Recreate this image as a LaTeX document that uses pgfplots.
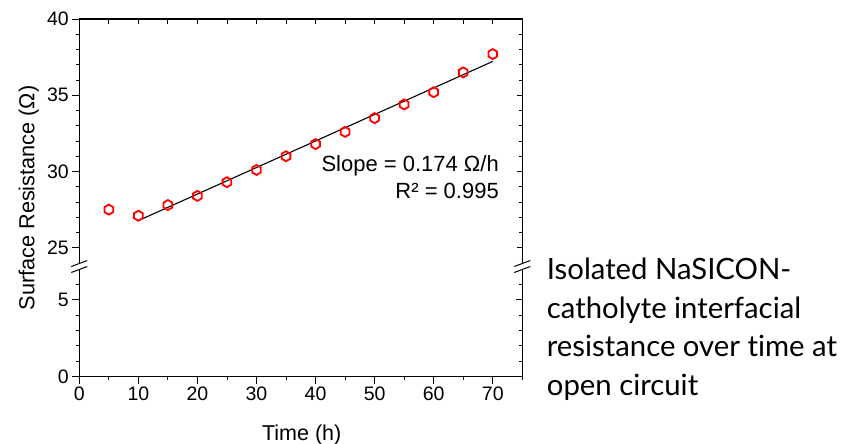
\documentclass[border=0pt]{standalone}
\usepackage{fontspec}
\setmainfont{Liberation Sans}
\newfontfamily\gill[Ligatures=NoCommon]{Lato}
\usepackage{pgfplots}
\pgfplotsset{compat=1.18}

% open hexagon, vertex on top
\pgfdeclareplotmark{hexagon}{%
  \pgfpathmoveto{\pgfqpointpolar{90}{\pgfplotmarksize}}%
  \pgfpathlineto{\pgfqpointpolar{150}{\pgfplotmarksize}}%
  \pgfpathlineto{\pgfqpointpolar{210}{\pgfplotmarksize}}%
  \pgfpathlineto{\pgfqpointpolar{270}{\pgfplotmarksize}}%
  \pgfpathlineto{\pgfqpointpolar{330}{\pgfplotmarksize}}%
  \pgfpathlineto{\pgfqpointpolar{30}{\pgfplotmarksize}}%
  \pgfpathclose
  \pgfusepathqstroke
}

\pgfplotsset{
  brk/.style={
    scale only axis, width=443pt,
    xmin=0, xmax=75,
    axis line style={draw=none},
    tick style={black, line width=0.9pt},
    major tick length=7pt, minor tick length=3.5pt,
    ticklabel style={font=\fontsize{19.5}{20}\selectfont},
    /pgf/number format/assume math mode=true,
  },
  up/.style={brk, at={(79.3pt,177.5pt)}, anchor=south west, height=247.5pt,
    ymin=23.77, ymax=40, ytick={25,30,35,40},
    minor ytick={26,27,28,29,31,32,33,34,36,37,38,39}},
  low/.style={brk, at={(79.3pt,67.3pt)}, anchor=south west, height=110.2pt,
    ymin=0, ymax=7.14, ytick={0,5}, minor ytick={1,2,3,4,6}},
  inner/.style={tick align=inside, major tick length=6pt, minor tick length=3.5pt,
    xticklabels={}, yticklabels={}},
}

\pgfplotstableread{
t R
5 27.5
10 27.1
15 27.8
20 28.4
25 29.3
30 30.1
35 31.0
40 31.8
45 32.6
50 33.5
55 34.4
60 35.2
65 36.5
70 37.7
}\resdata

\begin{document}
\begin{tikzpicture}
\path[use as bounding box] (0pt,0pt) rectangle (846pt,444pt);

% upper part, left ticks outward
\begin{axis}[up, ytick pos=left, tick align=outside, xtick=\empty]
  \addplot[black, line width=1.1pt] coordinates {(10,26.78) (70,37.22)};
  \addplot[only marks, mark=hexagon, mark size=5pt,
    mark options={draw=red, line width=1.8pt}] table[x=t, y=R] {\resdata};
\end{axis}
% upper part, top and right ticks inward
\begin{axis}[up, inner, xtick pos=right, ytick pos=right,
    xtick={0,5,...,75}, major tick length=5pt]
\end{axis}
% lower part, left and bottom ticks outward
\begin{axis}[low, tick pos=left, tick align=outside,
    xtick={0,10,...,70}, minor xtick={5,15,...,75}]
\end{axis}
% lower part, right ticks inward
\begin{axis}[low, inner, ytick pos=right, xtick=\empty]
\end{axis}

\begin{scope}[x=1pt, y=1pt]
% frame with axis breaks
\begin{scope}[line width=1.2pt, black]
  \draw (79.3,180.5) -- (79.3,425) -- (522.3,425) -- (522.3,180.5);
  \draw (79.3,174.5) -- (79.3,67.3) -- (522.3,67.3) -- (522.3,174.5);
  \foreach \xx in {79.3,522.3}{
    \draw[line width=1pt] (\xx-8,177.5) -- (\xx+8,183.5);
    \draw[line width=1pt] (\xx-8,171.5) -- (\xx+8,177.5);
  }
\end{scope}

% labels
\node[rotate=90, anchor=base, font=\fontsize{21.7}{22}\selectfont] at (34.5,246) {Surface Resistance (Ω)};
\node[anchor=base, font=\fontsize{21.5}{22}\selectfont] at (301.7,3.5) {Time (h)};
\node[anchor=base east, inner sep=0pt, font=\fontsize{22}{22}\selectfont] at (499,272.3) {Slope = 0.174 Ω/h};
\node[anchor=base east, inner sep=0pt, font=\fontsize{22}{22}\selectfont] at (499,245.7) {R² = 0.995};

% side caption
\begin{scope}[every node/.style={anchor=base west, inner sep=0pt, font=\gill\fontsize{29.3}{36}\selectfont}]
  \node at (546.7,164) {Isolated NaSICON-};
  \node at (546.7,125.5) {catholyte interfacial};
  \node at (546.7,87) {resistance over time at};
  \node at (546.7,48.5) {open circuit};
\end{scope}
\end{scope}
\end{tikzpicture}
\end{document}
